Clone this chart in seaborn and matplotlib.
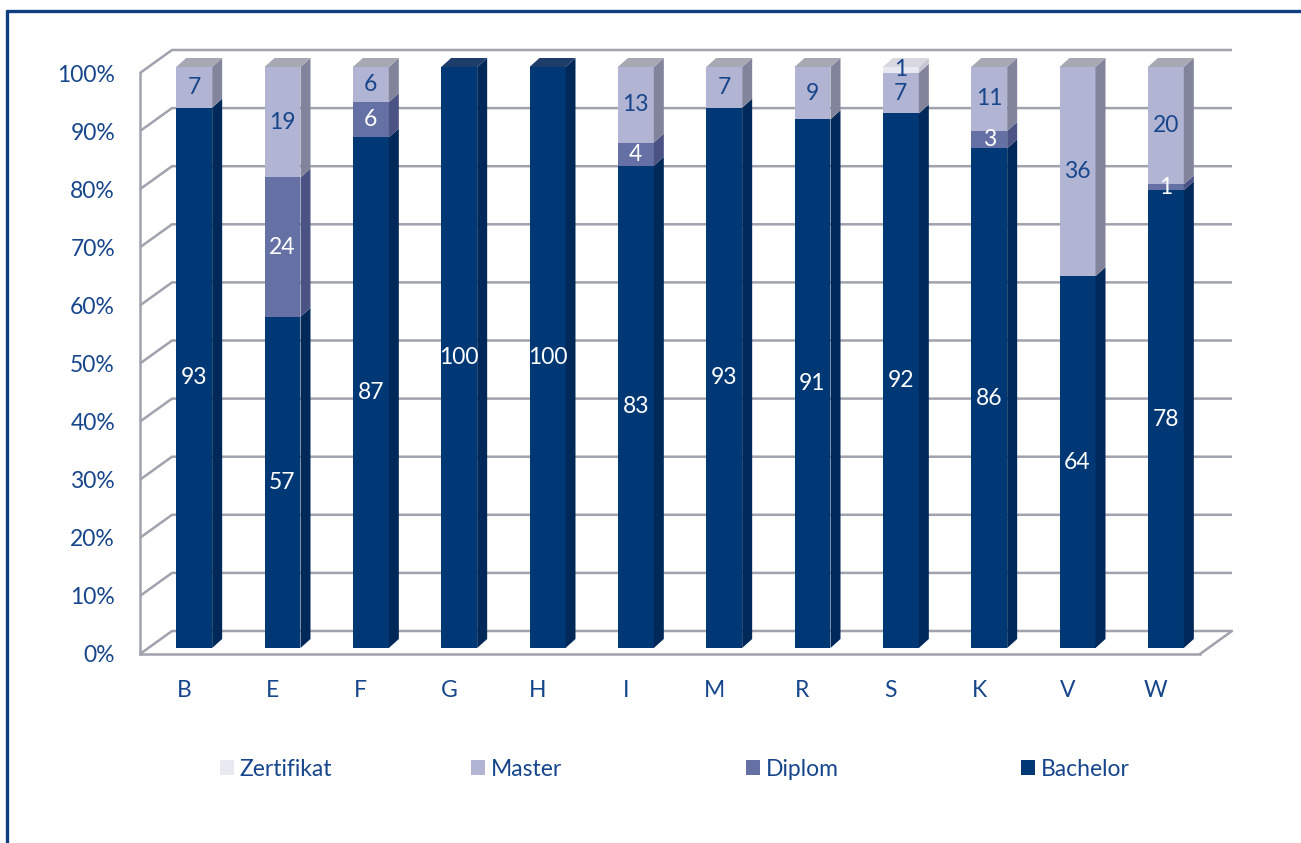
import numpy as np
import pandas as pd
import seaborn as sns
import matplotlib
matplotlib.use("Agg")
import matplotlib.pyplot as plt
from matplotlib.patches import Polygon, Rectangle
from matplotlib.lines import Line2D

# ---------------- data ----------------
categories = ["B", "E", "F", "G", "H", "I", "M", "R", "S", "K", "V", "W"]
bachelor   = [93, 57, 87, 100, 100, 83, 93, 91, 92, 86, 64, 78]
diplom     = [0, 24, 6, 0, 0, 4, 0, 0, 0, 3, 0, 1]
master     = [7, 19, 6, 0, 0, 13, 7, 9, 7, 11, 36, 20]
zertifikat = [0, 0, 0, 0, 0, 0, 0, 0, 1, 0, 0, 0]
series_names = ["Bachelor", "Diplom", "Master", "Zertifikat"]
y_ticks = [0, 10, 20, 30, 40, 50, 60, 70, 80, 90, 100]

# ---------------- style ----------------
sns.set_theme(style="white")
plt.rcParams["font.family"] = ["Lato", "DejaVu Sans"]
TXT = "#17468c"
GRID = "#a0a3ae"
front_col = {"Bachelor": "#003876", "Diplom": "#6570a4",
             "Master": "#b1b4d2", "Zertifikat": "#e9e9f2"}
side_col = {"Bachelor": "#00295a", "Diplom": "#4a5383",
            "Master": "#81849b", "Zertifikat": "#c6c7d4"}
top_col = {"Bachelor": "#1f3d6b", "Diplom": "#5a6285",
           "Master": "#a6a8b4", "Zertifikat": "#d8d8e0"}
label_col = {"Bachelor": "white", "Diplom": "white",
             "Master": TXT, "Zertifikat": TXT}
FS = 16.5

W_PX, H_PX = 1301, 843
fig = plt.figure(figsize=(W_PX / 100, H_PX / 100), dpi=100)
ax = fig.add_axes([140 / W_PX, (H_PX - 654) / H_PX, 1060 / W_PX, 581 / H_PX])

n = len(categories)
ppx = 1060 / n
ppy = 581 / 100
fdx, fdy = 32 / ppx, 23 / ppy      # floor / wall depth
bdx, bdy = 10 / ppx, 6 / ppy       # bar offset from front plane
ddx, ddy = 10 / ppx, 9 / ppy       # bar depth
bw = 36 / ppx                      # bar width

# normalize to 100 %
vals = {"Bachelor": np.array(bachelor, float), "Diplom": np.array(diplom, float),
        "Master": np.array(master, float), "Zertifikat": np.array(zertifikat, float)}
tot = sum(vals.values())
pct = {k: v / tot * 100 for k, v in vals.items()}
cum = {}
run = np.zeros(n)
for k in series_names:
    run = run + pct[k]
    cum[k] = run.copy()

# ---------------- walls / grid ----------------
x0, x1 = -0.5, n - 0.5
for yv in y_ticks:
    ax.plot([x0, x0 + fdx, x1 + fdx], [yv, yv + fdy, yv + fdy],
            color=GRID, lw=1.8, zorder=0.5, clip_on=False, solid_capstyle="butt")
ax.plot([x1, x1 + fdx], [0, fdy], color=GRID, lw=1.8, zorder=0.5, clip_on=False)

# ---------------- bars (front faces via seaborn) ----------------
xpos = np.arange(n) + bdx
for k in reversed(series_names):
    df = pd.DataFrame({"x": xpos, "y": cum[k]})
    sns.barplot(data=df, x="x", y="y", native_scale=True, width=bw,
                bottom=bdy, color=front_col[k], saturation=1, errorbar=None,
                linewidth=0, ax=ax, zorder=3)
for p in ax.patches:
    p.set_clip_on(False)

# side and top faces
for i in range(n):
    xl = xpos[i] - bw / 2
    xr = xpos[i] + bw / 2
    prev = 0.0
    top_series = None
    for k in series_names:
        h = pct[k][i]
        if h <= 0:
            continue
        y0 = prev + bdy
        y1 = prev + h + bdy
        ax.add_patch(Polygon([(xr, y0), (xr + ddx, y0 + ddy), (xr + ddx, y1 + ddy), (xr, y1)],
                             closed=True, facecolor=side_col[k], edgecolor="none",
                             zorder=3, clip_on=False))
        prev += h
        top_series = k
    yt = prev + bdy
    ax.add_patch(Polygon([(xl, yt), (xl + ddx, yt + ddy), (xr + ddx, yt + ddy), (xr, yt)],
                         closed=True, facecolor=top_col[top_series], edgecolor="none",
                         zorder=3, clip_on=False))

# value labels
for k in series_names:
    for i in range(n):
        if vals[k][i] > 0:
            ymid = cum[k][i] - pct[k][i] / 2 + bdy
            ax.text(xpos[i], ymid, f"{int(vals[k][i])}", ha="center", va="center",
                    fontsize=FS, color=label_col[k], zorder=5, clip_on=False)

# ---------------- axes ----------------
ax.set_xlim(x0, x1)
ax.set_ylim(0, 100)
ax.set_xticks(np.arange(n))
ax.set_xticklabels(categories)
ax.set_xticks(np.arange(n + 1) - 0.5, minor=True)
ax.set_yticks(y_ticks)
ax.set_yticklabels([f"{t}%" for t in y_ticks])
ax.tick_params(axis="x", which="major", length=0, pad=19, labelsize=FS, labelcolor=TXT)
ax.tick_params(axis="x", which="minor", length=5, width=1.6, color=GRID, direction="out")
ax.tick_params(axis="y", length=5, width=1.6, color=GRID, direction="out", pad=13,
               labelsize=FS, labelcolor=TXT)
ax.set_xlabel("")
ax.set_ylabel("")
for s in ["top", "right"]:
    ax.spines[s].set_visible(False)
for s in ["left", "bottom"]:
    ax.spines[s].set_color(GRID)
    ax.spines[s].set_linewidth(1.8)
ax.patch.set_alpha(0)

# ---------------- legend ----------------
leg_x = [223, 474, 749, 1024]
leg_order = ["Zertifikat", "Master", "Diplom", "Bachelor"]
for lx, k in zip(leg_x, leg_order):
    h = Rectangle((0, 0), 1, 1, facecolor=front_col[k], edgecolor="none")
    fig.legend([h], [k], loc="center left", bbox_to_anchor=(lx / W_PX - 0.002, 1 - 769 / H_PX),
               frameon=False, fontsize=FS, labelcolor=TXT, handlelength=0.6,
               handleheight=0.6, handletextpad=0.25, borderpad=0, borderaxespad=0)

# ---------------- outer frame ----------------
FR = "#0d3f80"
fig.add_artist(Line2D([7 / W_PX, 1.0], [1 - 11 / H_PX, 1 - 11 / H_PX], color=FR, lw=2.4,
                      transform=fig.transFigure))
fig.add_artist(Line2D([7 / W_PX, 7 / W_PX], [1 - 11 / H_PX, 0], color=FR, lw=2.4,
                      transform=fig.transFigure))

fig.savefig("out.png", dpi=100)
